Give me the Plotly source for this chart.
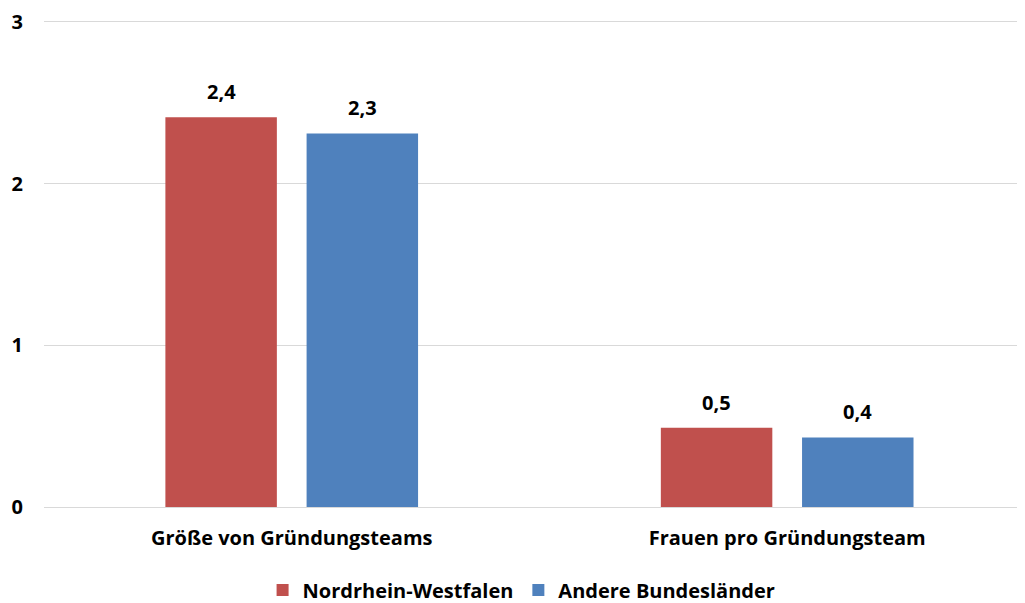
import plotly.graph_objects as go

categories = ["Größe von Gründungsteams", "Frauen pro Gründungsteam"]
series_names = ["Nordrhein-Westfalen", "Andere Bundesländer"]
nrw_values = [2.41, 0.49]
andere_values = [2.31, 0.43]
y_ticks = [0, 1, 2, 3]

colors = ["#C0504D", "#4F81BD"]
font_family = "'Open Sans', Lato, sans-serif"
FS = 20

# page body adds an 8px margin, so the figure is drawn 8px smaller
W, H = 1017, 595
ML, MR, MT, MB = 36, 0, 9, 96

bar_width = 0.225
offsets = [-0.255, 0.03]
x_range = [-0.5, 1.48]
px_per_unit = (W - ML - MR) / (x_range[1] - x_range[0])

fig = go.Figure()
for name, vals, col, off in zip(series_names, [nrw_values, andere_values], colors, offsets):
    fig.add_trace(go.Bar(
        x=categories, y=vals, name=name,
        marker=dict(color=col, line=dict(width=0)),
        width=bar_width, offset=off,
        cliponaxis=False,
    ))
    for c, v in zip(categories, vals):
        fig.add_annotation(
            x=c, y=v, xref="x", yref="y",
            text=f"{v:.1f}".replace(".", ","),
            showarrow=False, yanchor="bottom",
            xshift=(off + bar_width / 2) * px_per_unit, yshift=10,
            font=dict(family=font_family, size=FS, color="#000000", weight="bold"),
        )

fig.update_layout(
    width=W, height=H,
    margin=dict(l=ML, r=MR, t=MT, b=MB, autoexpand=False),
    plot_bgcolor="white", paper_bgcolor="white",
    separators=",.",
    barmode="group",
    font=dict(family=font_family, size=FS, color="#000000"),
    showlegend=True,
    legend=dict(orientation="h", x=0.505, xanchor="center", xref="container",
                y=1 - 582 / 595, yanchor="middle", yref="container",
                font=dict(family=font_family, size=FS, color="#000000", weight="bold"),
                itemwidth=30, traceorder="normal"),
    xaxis=dict(type="category", range=x_range, showgrid=False, showline=False,
               ticks="", automargin=False, ticklabelstandoff=17,
               tickfont=dict(family=font_family, size=FS, weight="bold")),
    yaxis=dict(range=[0, 3.03], tickvals=y_ticks, showgrid=True, gridcolor="#D9D9D9",
               gridwidth=1, zeroline=True, zerolinecolor="#D9D9D9", zerolinewidth=1,
               showline=False, ticks="", ticklabelstandoff=20, automargin=False,
               ticklabeloverflow="allow",
               tickfont=dict(family=font_family, size=FS, weight="bold")),
)

fig.write_html("out.html")
